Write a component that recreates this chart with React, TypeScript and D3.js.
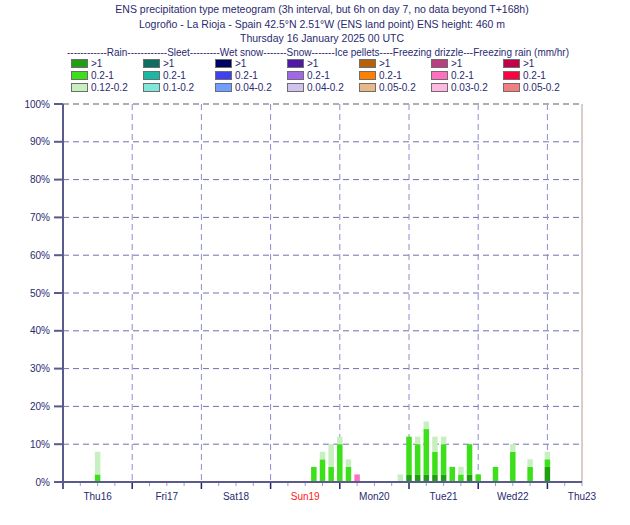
import * as d3 from 'd3';

// time steps (hours after Thu 16 Jan 2025 00 UTC) that carry a bar
const STEP_HOURS = [12, 87, 90, 93, 96, 99, 102, 117, 120, 123, 126, 129, 132, 135, 138, 141, 144, 150, 156, 162, 168];
// probability (%) per class, stacked bottom -> top
const RAIN_HEAVY = [0, 0, 0, 0, 0, 0, 0, 0, 2, 2, 2, 2, 2, 0, 0, 2, 0, 0, 0, 0, 4];
const RAIN_MODERATE = [2, 4, 6, 4, 10, 4, 0, 0, 10, 8, 12, 6, 8, 4, 2, 8, 2, 4, 8, 4, 2];
const RAIN_LIGHT = [6, 0, 2, 6, 2, 2, 0, 2, 0, 2, 2, 4, 2, 0, 2, 0, 0, 0, 2, 2, 2];
const FZDRIZZLE_MODERATE = [0, 0, 0, 0, 0, 0, 2, 0, 0, 0, 0, 0, 0, 0, 0, 0, 0, 0, 0, 0, 0];

const DAY_LABELS = ['Thu16', 'Fri17', 'Sat18', 'Sun19', 'Mon20', 'Tue21', 'Wed22', 'Thu23'];
const Y_TICKS = [0, 10, 20, 30, 40, 50, 60, 70, 80, 90, 100];

const LEGEND_HEADER = '------------Rain------------Sleet---------Wet snow-------Snow-------Ice pellets----Freezing drizzle---Freezing rain (mm/hr)';
const LEGEND_TYPES = ['Rain', 'Sleet', 'Wet snow', 'Snow', 'Ice pellets', 'Freezing drizzle', 'Freezing rain'];
const LEGEND_LABELS = [
  ['>1', '0.2-1', '0.12-0.2'],
  ['>1', '0.2-1', '0.1-0.2'],
  ['>1', '0.2-1', '0.04-0.2'],
  ['>1', '0.2-1', '0.04-0.2'],
  ['>1', '0.2-1', '0.05-0.2'],
  ['>1', '0.2-1', '0.03-0.2'],
  ['>1', '0.2-1', '0.05-0.2'],
];
const LEGEND_COLORS = [
  ['#1e9e10', '#3ce01a', '#c8efc0'],
  ['#0e6e62', '#1ab8a2', '#7fe8da'],
  ['#000060', '#4040f0', '#70a0ff'],
  ['#5018a8', '#a068e8', '#d2c2f0'],
  ['#b86008', '#ff8000', '#e8b888'],
  ['#b84080', '#ff70c0', '#ffb8e0'],
  ['#c00048', '#ff0040', '#f08080'],
];

const TITLE = [
  'ENS precipitation type meteogram (3h interval, but 6h on day 7, no data beyond T+168h)',
  'Logroño - La Rioja - Spain 42.5°N 2.51°W (ENS land point) ENS height: 460 m',
  'Thursday 16 January 2025 00 UTC',
];

const W = 630, H = 525;
const M = { left: 63, right: 48, top: 104, bottom: 43 };
const TEXT = '#2a2a70';
const AXIS = '#5a5a8c';
const FONT = 'Liberation Sans, Arial, sans-serif';

export default function App() {
  const x = d3.scaleLinear().domain([0, 180]).range([M.left, W - M.right]);
  const y = d3.scaleLinear().domain([0, 100]).range([H - M.bottom, M.top]);
  const barW = 5.5;

  const series = [
    { values: RAIN_HEAVY, color: LEGEND_COLORS[0][0] },
    { values: RAIN_MODERATE, color: LEGEND_COLORS[0][1] },
    { values: RAIN_LIGHT, color: LEGEND_COLORS[0][2] },
    { values: FZDRIZZLE_MODERATE, color: LEGEND_COLORS[5][1] },
  ];
  const rows = STEP_HOURS.map((h, i) => {
    const r: Record<string, number> = { h };
    series.forEach((s, k) => { r['s' + k] = s.values[i]; });
    return r;
  });
  const stacked = d3.stack<Record<string, number>>().keys(series.map((_, k) => 's' + k))(rows);

  const dayHours = d3.range(0, 181, 24);
  const sixHours = d3.range(0, 181, 6);
  const x0 = x(0), x1 = x(180), yb = y(0), yt = y(100);

  return (
    <svg width={W} height={H} style={{ position: 'absolute', left: 0, top: 0, background: '#fff' }} fontFamily={FONT}>
      {TITLE.map((t, i) => (
        <text key={t} x={322} y={13 + i * 14.5} textAnchor="middle" fontSize={10.5} fill={TEXT}>{t}</text>
      ))}
      <text x={67} y={56} fontSize={11} fill={TEXT} textLength={502} lengthAdjust="spacingAndGlyphs">{LEGEND_HEADER}</text>
      {LEGEND_TYPES.map((t, c) => (
        <g key={t} transform={`translate(${71 + c * 72},59)`}>
          {LEGEND_LABELS[c].map((lab, r) => (
            <g key={r} transform={`translate(0,${r * 12})`}>
              <rect x={0.5} y={0.5} width={16} height={8} fill={LEGEND_COLORS[c][r]} stroke="#6e6e6e" strokeWidth={1} />
              <text x={20} y={8} fontSize={10} fill={TEXT}>{lab}</text>
            </g>
          ))}
        </g>
      ))}

      {/* grid */}
      {Y_TICKS.filter((v) => v > 0 && v < 100).map((v) => (
        <line key={v} x1={x0} x2={x1} y1={y(v)} y2={y(v)} stroke="#7070b0" strokeDasharray="6,4" />
      ))}
      {dayHours.filter((h) => h > 0 && h < 180).map((h) => (
        <line key={h} x1={x(h)} x2={x(h)} y1={yt} y2={yb} stroke="#8c8cd0" strokeDasharray="6,4" />
      ))}
      <line x1={x0} x2={x1} y1={yt} y2={yt} stroke="#b4acb4" strokeWidth={2} strokeDasharray="6,4" />
      <line x1={x1} x2={x1} y1={yt} y2={yb} stroke="#b0a090" />

      {/* bars */}
      {stacked.map((layer, k) => (
        <g key={k} fill={series[k].color}>
          {layer.filter((d) => d[1] > d[0]).map((d) => (
            <rect key={d.data.h} x={x(d.data.h) - barW / 2} width={barW} y={y(d[1])} height={y(d[0]) - y(d[1])} />
          ))}
        </g>
      ))}

      {/* axes */}
      {sixHours.filter((h) => h % 24 !== 0).map((h) => (
        <line key={h} x1={x(h)} x2={x(h)} y1={yb} y2={yb + 4} stroke="#9a9ad0" />
      ))}
      {dayHours.map((h) => (
        <line key={h} x1={x(h)} x2={x(h)} y1={yb} y2={yb + 7} stroke="#20206e" strokeWidth={1.5} />
      ))}
      <line x1={x0} x2={x0} y1={yt} y2={yb + 6} stroke={AXIS} strokeWidth={2} />
      <line x1={x0} x2={x1} y1={yb} y2={yb} stroke={AXIS} strokeWidth={2} />
      {Y_TICKS.map((v) => (
        <g key={v}>
          <line x1={54} x2={x0} y1={y(v)} y2={y(v)} stroke={AXIS} strokeWidth={2} />
          <text x={50} y={y(v) + 3.5} textAnchor="end" fontSize={10} fill={TEXT}>{v}%</text>
        </g>
      ))}
      {DAY_LABELS.map((d, i) => (
        <text key={d} x={x(12 + i * 24)} y={500} textAnchor="middle" fontSize={10} fill={d.startsWith('Sun') ? '#ff2020' : TEXT}>{d}</text>
      ))}
    </svg>
  );
}
